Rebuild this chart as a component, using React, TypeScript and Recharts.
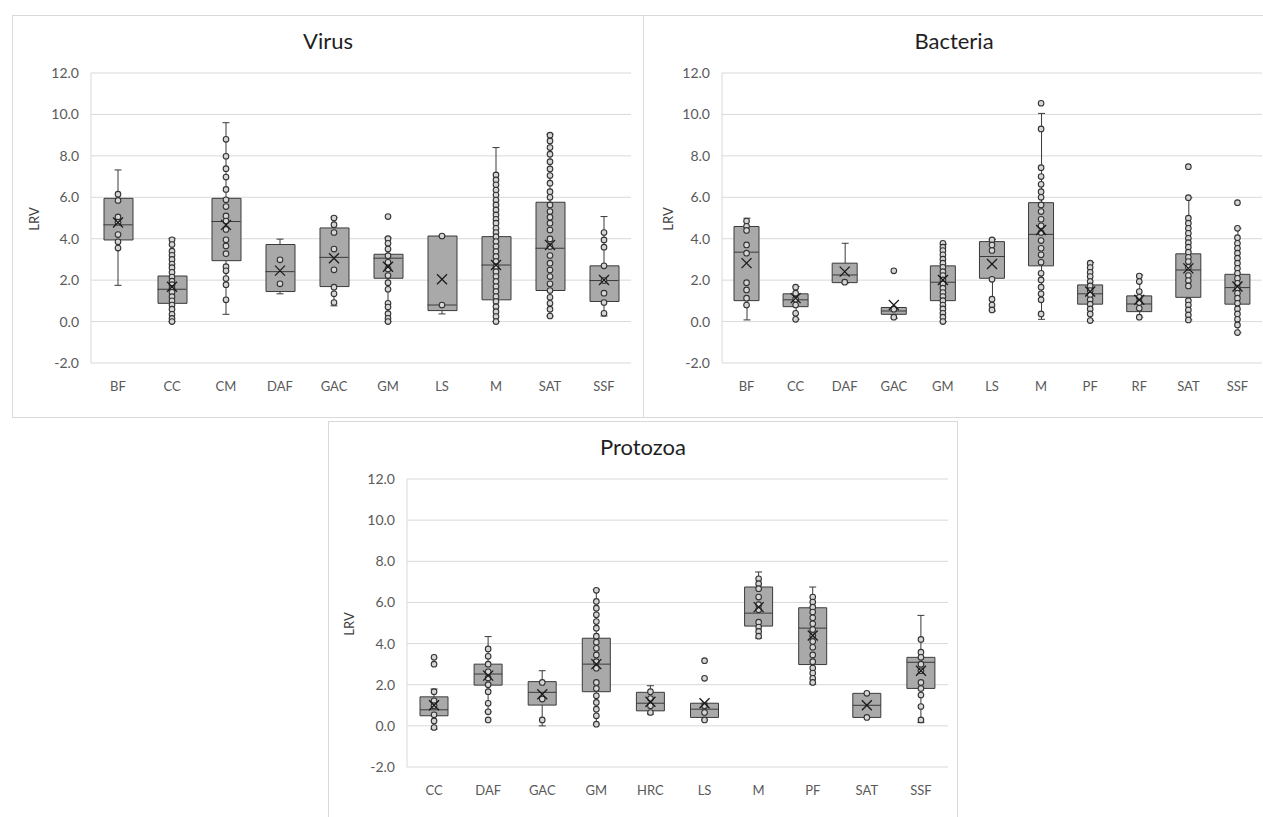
import React from "react";
import { ComposedChart, Bar, Scatter, XAxis, YAxis, CartesianGrid } from "recharts";

const Y_TICKS = [-2, 0, 2, 4, 6, 8, 10, 12];
const FONT = "Lato, 'Open Sans', sans-serif";
const BOX_FILL = "#a9a9a9";
const INK = "#3a3a3a";

// Virus
const virusCats = ["BF", "CC", "CM", "DAF", "GAC", "GM", "LS", "M", "SAT", "SSF"];
const virusMin = [1.75, 0.0, 0.35, 1.34, 0.76, 0.0, 0.37, 0.0, 0.27, 0.27];
const virusQ1 = [3.94, 0.88, 2.94, 1.45, 1.69, 2.09, 0.53, 1.05, 1.5, 0.97];
const virusMedian = [4.67, 1.56, 4.83, 2.41, 3.1, 3.06, 0.8, 2.73, 3.54, 1.98];
const virusQ3 = [5.95, 2.2, 5.95, 3.72, 4.52, 3.25, 4.13, 4.1, 5.76, 2.69];
const virusMax = [7.32, 4.02, 9.6, 3.98, 5.04, 4.05, 4.13, 8.4, 9.04, 5.07];
const virusMean = [4.78, 1.68, 4.67, 2.46, 3.06, 2.65, 2.04, 2.73, 3.7, 2.01];
const virusPoints = [
  [6.15, 5.85, 5.05, 4.8, 4.2, 3.85, 3.55],
  [3.95, 3.72, 3.4, 3.2, 3.0, 2.78, 2.6, 2.38, 2.15, 1.95, 1.78, 1.6, 1.42, 1.2, 1.0, 0.8, 0.6, 0.35, 0.15, 0.0],
  [8.8, 7.98, 7.38, 6.98, 6.38, 5.88, 5.55, 5.1, 4.85, 4.45, 3.95, 3.65, 3.28, 2.65, 2.45, 2.08, 1.78, 1.05],
  [2.98, 1.82],
  [5.0, 4.68, 4.3, 3.5, 2.5, 1.66, 1.34, 0.92],
  [5.07, 4.0, 3.78, 3.5, 3.18, 2.86, 2.54, 2.22, 1.88, 1.56, 0.88, 0.7, 0.38, 0.16, 0.0],
  [4.13, 0.8],
  [7.08, 6.84, 6.6, 6.35, 6.11, 5.87, 5.63, 5.39, 5.15, 4.94, 4.75, 4.5, 4.3, 4.1, 3.86, 3.62, 3.38, 3.14, 2.9, 2.65, 2.41, 2.17, 1.93, 1.69, 1.45, 1.21, 0.97, 0.72, 0.48, 0.24, 0.0],
  [9.0, 8.72, 8.4, 8.08, 7.72, 7.37, 7.05, 6.68, 6.27, 6.0, 5.63, 5.31, 5.04, 4.75, 4.42, 3.99, 3.62, 3.19, 2.82, 2.49, 2.17, 1.82, 1.5, 1.17, 0.88, 0.6, 0.27],
  [4.3, 3.94, 3.59, 2.69, 1.98, 1.37, 0.92, 0.4],
];

// Bacteria
const bactCats = ["BF", "CC", "DAF", "GAC", "GM", "LS", "M", "PF", "RF", "SAT", "SSF"];
const bactMin = [0.08, 0.11, 1.85, 0.16, 0.0, 0.51, 0.11, 0.05, 0.21, 0.08, -0.53];
const bactQ1 = [1.01, 0.72, 1.88, 0.35, 1.01, 2.09, 2.69, 0.84, 0.48, 1.17, 0.84];
const bactMedian = [3.35, 1.05, 2.25, 0.51, 1.9, 3.14, 4.21, 1.34, 0.85, 2.49, 1.64];
const bactQ3 = [4.59, 1.34, 2.82, 0.68, 2.69, 3.86, 5.74, 1.77, 1.24, 3.27, 2.28];
const bactMax = [4.99, 1.69, 3.78, 0.68, 3.73, 3.97, 10.05, 2.85, 2.25, 5.98, 4.5];
const bactMean = [2.82, 1.13, 2.41, 0.8, 2.01, 2.78, 4.42, 1.45, 1.05, 2.57, 1.69];
const bactPoints = [
  [4.85, 4.6, 4.4, 3.7, 3.3, 1.88, 1.53, 1.13, 0.8],
  [1.66, 1.37, 1.08, 0.8, 0.4, 0.11],
  [1.9],
  [2.45, 0.6, 0.21],
  [3.78, 3.59, 3.43, 3.22, 3.01, 2.82, 2.62, 2.41, 2.22, 2.01, 1.82, 1.61, 1.4, 1.21, 1.01, 0.8, 0.61, 0.4, 0.21, 0.0],
  [3.94, 3.7, 3.43, 2.04, 1.08, 0.8, 0.56],
  [10.54, 9.3, 7.43, 7.0, 6.63, 6.27, 6.0, 5.63, 5.31, 4.94, 4.62, 4.3, 3.91, 3.54, 3.22, 2.86, 2.33, 2.01, 1.66, 1.34, 1.05, 0.37],
  [2.82, 2.61, 2.38, 2.17, 1.93, 1.72, 1.5, 1.29, 1.05, 0.84, 0.61, 0.37, 0.05],
  [2.2, 1.93, 1.45, 1.17, 0.92, 0.64, 0.21],
  [7.48, 5.98, 4.99, 4.75, 4.5, 4.26, 4.02, 3.81, 3.59, 3.35, 3.1, 2.9, 2.62, 2.22, 1.98, 1.72, 1.01, 0.8, 0.56, 0.32, 0.08],
  [5.74, 4.5, 4.05, 3.78, 3.54, 3.3, 3.06, 2.82, 2.57, 2.33, 2.09, 1.85, 1.61, 1.37, 1.13, 0.88, 0.61, 0.37, 0.11, -0.16, -0.53],
];

// Protozoa
const protoCats = ["CC", "DAF", "GAC", "GM", "HRC", "LS", "M", "PF", "SAT", "SSF"];
const protoMin = [-0.16, 0.68, 0.0, 0.08, 0.57, 0.29, 4.26, 2.03, 0.41, 0.16];
const protoQ1 = [0.49, 1.98, 1.01, 1.66, 0.73, 0.41, 4.85, 2.98, 0.41, 1.82];
const protoMedian = [0.78, 2.52, 1.63, 3.0, 1.1, 0.81, 5.48, 4.75, 1.0, 3.09];
const protoQ3 = [1.41, 3.0, 2.15, 4.26, 1.63, 1.1, 6.75, 5.74, 1.58, 3.33];
const protoMax = [1.79, 4.34, 2.68, 6.63, 1.95, 1.1, 7.48, 6.75, 1.58, 5.37];
const protoMean = [1.0, 2.44, 1.54, 3.0, 1.17, 1.1, 5.77, 4.39, 1.0, 2.68];
const protoPoints = [
  [3.33, 3.0, 1.66, 1.22, 0.98, 0.54, 0.24, -0.08],
  [3.74, 3.38, 3.0, 2.63, 2.33, 2.0, 1.66, 1.1, 0.68, 0.29],
  [2.11, 1.3, 0.29],
  [6.59, 6.05, 5.72, 5.4, 5.07, 4.75, 4.36, 4.07, 3.77, 3.45, 3.12, 2.8, 2.11, 1.82, 1.46, 1.14, 0.81, 0.49, 0.08],
  [1.66, 1.33, 0.98, 0.65],
  [3.17, 2.31, 0.98, 0.65, 0.29],
  [7.15, 6.91, 6.67, 6.26, 5.89, 5.64, 5.04, 4.8, 4.59, 4.36],
  [6.26, 6.02, 5.77, 5.53, 5.25, 4.96, 4.68, 4.39, 4.1, 3.82, 3.45, 3.12, 2.81, 2.57, 2.31, 2.11],
  [1.58, 0.41],
  [4.2, 3.58, 3.33, 3.0, 2.68, 2.11, 1.82, 1.5, 0.94, 0.29],
];

function buildRows(cats: string[], min: number[], q1: number[], med: number[], q3: number[], max: number[], mean: number[]) {
  return cats.map((name, i) => ({
    name,
    whisker: [min[i], max[i]],
    box: [q1[i], q3[i]],
    median: med[i],
    mean: mean[i],
  }));
}

function buildPoints(cats: string[], pts: number[][]) {
  return cats.flatMap((name, i) => pts[i].map((v) => ({ name, v })));
}

const WhiskerShape = (p: any) => {
  const cx = p.x + p.width / 2;
  const top = Math.min(p.y, p.y + p.height);
  const bot = Math.max(p.y, p.y + p.height);
  return (
    <g stroke={INK} strokeWidth={1}>
      <line x1={cx} x2={cx} y1={top} y2={bot} />
      <line x1={cx - 3.5} x2={cx + 3.5} y1={top} y2={top} />
      <line x1={cx - 3.5} x2={cx + 3.5} y1={bot} y2={bot} />
    </g>
  );
};

const PointShape = (p: any) => (
  <circle cx={p.cx} cy={p.cy} r={2.8} fill="#d6d6d6" stroke="#333" strokeWidth={1.1} />
);

const MeanShape = (p: any) => (
  <g stroke="#1a1a1a" strokeWidth={1.3}>
    <line x1={p.cx - 5} x2={p.cx + 5} y1={p.cy - 5} y2={p.cy + 5} />
    <line x1={p.cx - 5} x2={p.cx + 5} y1={p.cy + 5} y2={p.cy - 5} />
  </g>
);

interface PanelProps {
  title: string;
  cats: string[];
  min: number[];
  q1: number[];
  med: number[];
  q3: number[];
  max: number[];
  mean: number[];
  points: number[][];
  left: number;
  top: number;
  width: number;
  height: number;
  marginRight: number;
  marginBottom: number;
  boxW: number;
  labelX: number;
}

function BoxPanel(props: PanelProps) {
  const { title, left, top, width, height, marginRight, marginBottom, boxW, labelX } = props;
  const rows = buildRows(props.cats, props.min, props.q1, props.med, props.q3, props.max, props.mean);
  const pts = buildPoints(props.cats, props.points);

  const MedianShape = (p: any) => (
    <line x1={p.cx - boxW / 2} x2={p.cx + boxW / 2} y1={p.cy} y2={p.cy} stroke={INK} strokeWidth={1} />
  );

  const plotTop = 58;
  const plotBottom = height - marginBottom - 30;

  return (
    <div
      style={{
        position: "absolute",
        left,
        top,
        width,
        height,
        boxSizing: "border-box",
        border: "1px solid #d9d9d9",
        background: "#fff",
        fontFamily: FONT,
      }}
    >
      <div
        style={{
          position: "absolute",
          left: 0,
          top: 11,
          width: "100%",
          textAlign: "center",
          fontSize: 22,
          color: "#1f1f1f",
        }}
      >
        {title}
      </div>
      <div
        style={{
          position: "absolute",
          left: labelX - 20,
          top: (plotTop + plotBottom) / 2 - 8,
          width: 40,
          textAlign: "center",
          fontSize: 13,
          color: "#404040",
          transform: "rotate(-90deg)",
        }}
      >
        LRV
      </div>
      <div style={{ position: "absolute", left: -1, top: -1 }}>
        <ComposedChart
          width={width}
          height={height}
          data={rows}
          margin={{ top: plotTop, right: marginRight, bottom: marginBottom, left: 0 }}
        >
          <CartesianGrid vertical={false} stroke="#d9d9d9" />
          <XAxis
            dataKey="name"
            type="category"
            allowDuplicatedCategory={false}
            axisLine={false}
            tickLine={false}
            tickMargin={13}
            height={30}
            interval={0}
            tick={{ fontSize: 13, fill: "#595959", fontFamily: FONT }}
          />
          <XAxis xAxisId="w" dataKey="name" type="category" allowDuplicatedCategory={false} hide />
          <YAxis
            width={79}
            domain={[-2, 12]}
            ticks={Y_TICKS}
            interval={0}
            axisLine={{ stroke: "#d9d9d9" }}
            tickLine={false}
            tickMargin={6}
            tickFormatter={(v: number) => v.toFixed(1)}
            tick={{ fontSize: 14, fill: "#595959", fontFamily: FONT }}
          />
          <Bar xAxisId="w" dataKey="whisker" barSize={8} shape={WhiskerShape} isAnimationActive={false} />
          <Bar dataKey="box" barSize={boxW} fill={BOX_FILL} stroke={INK} strokeWidth={1} isAnimationActive={false} />
          <Scatter data={rows} dataKey="median" shape={MedianShape} isAnimationActive={false} />
          <Scatter data={pts} dataKey="v" shape={PointShape} isAnimationActive={false} />
          <Scatter data={rows} dataKey="mean" shape={MeanShape} isAnimationActive={false} />
        </ComposedChart>
      </div>
    </div>
  );
}

export default function App() {
  return (
    <div style={{ position: "absolute", left: 0, top: 0, width: 1263, height: 817, background: "#fff", overflow: "hidden" }}>
      <BoxPanel
        title="Virus"
        cats={virusCats}
        min={virusMin}
        q1={virusQ1}
        med={virusMedian}
        q3={virusQ3}
        max={virusMax}
        mean={virusMean}
        points={virusPoints}
        left={12}
        top={15}
        width={632}
        height={403}
        marginRight={13}
        marginBottom={25}
        boxW={29}
        labelX={21}
      />
      <BoxPanel
        title="Bacteria"
        cats={bactCats}
        min={bactMin}
        q1={bactQ1}
        med={bactMedian}
        q3={bactQ3}
        max={bactMax}
        mean={bactMean}
        points={bactPoints}
        left={643}
        top={15}
        width={622}
        height={403}
        marginRight={3}
        marginBottom={25}
        boxW={25}
        labelX={24}
      />
      <BoxPanel
        title="Protozoa"
        cats={protoCats}
        min={protoMin}
        q1={protoQ1}
        med={protoMedian}
        q3={protoQ3}
        max={protoMax}
        mean={protoMean}
        points={protoPoints}
        left={328}
        top={421}
        width={630}
        height={398}
        marginRight={10}
        marginBottom={22}
        boxW={28}
        labelX={20}
      />
    </div>
  );
}
